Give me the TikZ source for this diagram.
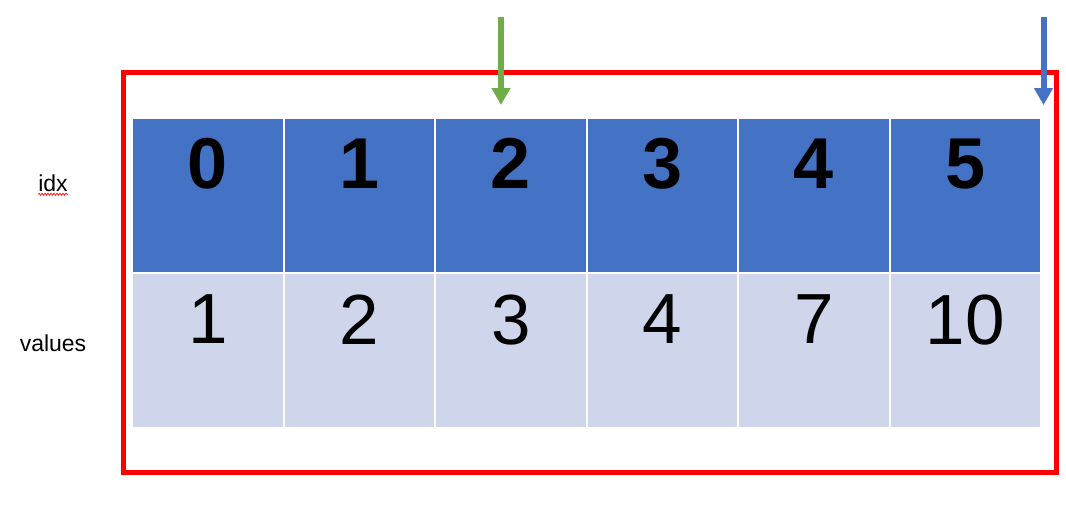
\documentclass[tikz,border=0pt]{standalone}
\usepackage{fontspec}
\setmainfont{Liberation Sans}
\usetikzlibrary{arrows.meta, decorations.pathmorphing}

\definecolor{idxblue}{HTML}{4472C4}
\definecolor{valblue}{HTML}{CFD5EA}
\definecolor{ptrgreen}{HTML}{70AD47}

\begin{document}
\begin{tikzpicture}[x=1pt, y=-1pt,
  cell/.style={draw=white, line width=2pt, minimum width=151.5pt, minimum height=155pt, inner sep=0pt, anchor=north west},
  idxcell/.style={cell, fill=idxblue},
  valcell/.style={cell, fill=valblue},
  digit/.style={anchor=north, inner sep=0pt, font=\fontsize{71}{71}\selectfont},
  rowlabel/.style={inner sep=0pt, font=\fontsize{23}{23}\selectfont},
  pointer/.style={line width=6pt, -{Triangle[width=18pt,length=17pt]}}]

\useasboundingbox (0,0) rectangle (1066,515);

%\draw[step=50pt,color=gray!40] (0,0) grid (1066,515);

	\foreach \v [count=\i from 0] in {1,2,3,4,7,10} {
		\node[idxcell] (idx\i) at (131+151.5*\i, 116.5) {};
		\node[valcell] (val\i) at (131+151.5*\i, 271.5) {};
		\node[digit, font=\fontsize{72}{72}\selectfont\bfseries] (n\i) at ([yshift=-22pt]idx\i.north) {\i};
		\node[digit] (v\i) at ([yshift=-23pt]val\i.north) {\v};
	}

\draw[red, line width=5pt] (123,72) rectangle (1056,472.5);

\node[rowlabel] (idxlabel) at (53,183) {idx};
\node[rowlabel] (vallabel) at (53,343) {values};
\draw[red, line width=0.7pt, decorate, decoration={snake, amplitude=1pt, segment length=3pt}]
	([yshift=-3pt]idxlabel.base west) -- ([yshift=-3pt]idxlabel.base east);

\coordinate (gtail) at (501,17);
\coordinate (ghead) at (501,105);
\coordinate (btail) at (1043.5,17);
\coordinate (bhead) at (1043.5,105);
\draw[pointer, ptrgreen] (gtail) -- (ghead);
\draw[pointer, idxblue] (btail) -- (bhead);

\end{tikzpicture}
\end{document}
